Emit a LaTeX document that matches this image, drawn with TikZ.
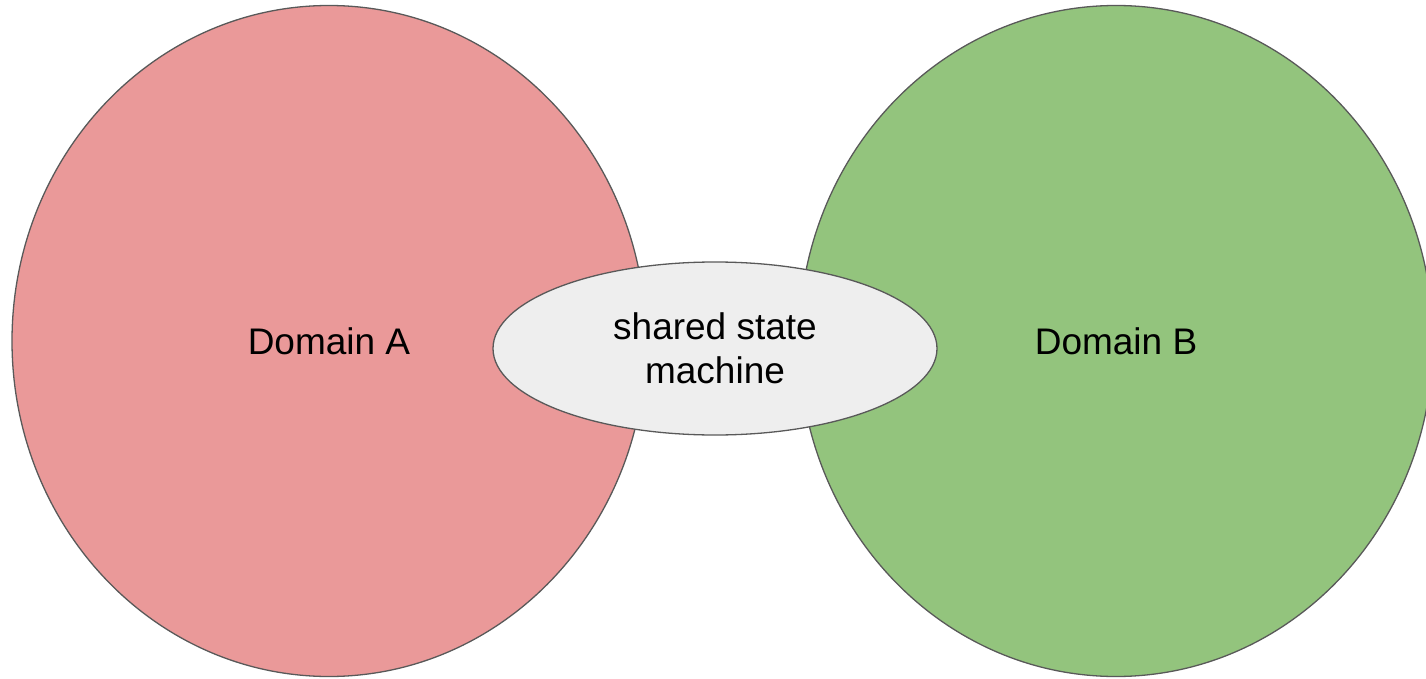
\documentclass[tikz,border=0pt]{standalone}
\usepackage{fontspec}
\setmainfont{Liberation Sans}
\usetikzlibrary{shapes.geometric}
\definecolor{domA}{HTML}{EA9999}
\definecolor{domB}{HTML}{93C47D}
\definecolor{shared}{HTML}{EEEEEE}
\definecolor{edge}{HTML}{595959}
\begin{document}
\begin{tikzpicture}[x=1pt,y=1pt,
  blob/.style={ellipse, draw=edge, line width=1.3pt, inner sep=0pt,
    font=\fontsize{37}{44}\selectfont, text=black}]
\useasboundingbox (0,0) rectangle (1426,-679);
\clip (0,0) rectangle (1426,-679);
% the two domains
\node[blob, fill=domA, minimum width=634pt, minimum height=671pt] (a) at (329,-341) {Domain A};
\node[blob, fill=domB, minimum width=634pt, minimum height=671pt] (b) at (1116,-341) {Domain B};
% the state machine shared between them
\node[blob, fill=shared, minimum width=444pt, minimum height=173pt, align=center] (s) at (715,-348.5) {shared state\\machine};
\end{tikzpicture}
\end{document}
